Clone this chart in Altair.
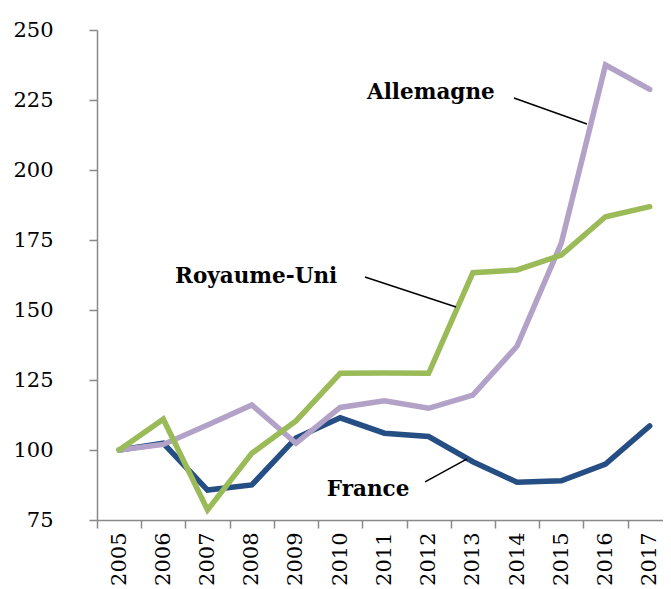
import altair as alt
import pandas as pd

years = list(range(2005, 2018))
france = [100, 102.4, 85.7, 87.5, 104.3, 111.5, 106.0, 104.8, 95.8, 88.5, 89.0, 95.0, 108.6]
royaume_uni = [100, 111.0, 78.6, 98.8, 110.4, 127.4, 127.5, 127.4, 163.3, 164.3, 169.6, 183.3, 186.9]
allemagne = [100, 102.0, 108.9, 116.1, 102.4, 115.2, 117.6, 114.9, 119.6, 137.1, 173.9, 237.5, 228.8]

series_names = ["France", "Allemagne", "Royaume-Uni"]
series_colors = ["#254E84", "#B3A2C7", "#9BBB59"]

label_text = ["Allemagne", "Royaume-Uni", "France"]
label_x = [7.05, 3.1, 5.63]
label_y = [227.5, 161.8, 85.7]

leader_x = [8.93, 5.56, 6.92]
leader_y = [225.7, 161.8, 88.6]
leader_x2 = [10.58, 7.62, 7.87]
leader_y2 = [216.4, 151.1, 96.8]

rows = []
for name, vals in zip(series_names, [france, allemagne, royaume_uni]):
    for i, (yr, v) in enumerate(zip(years, vals)):
        rows.append({"serie": name, "t": i, "year": yr, "value": v})
df = pd.DataFrame(rows)

labels_df = pd.DataFrame({"text": label_text, "x": label_x, "y": label_y})
leaders_df = pd.DataFrame({"x": leader_x, "y": leader_y, "x2": leader_x2, "y2": leader_y2})

font = "DejaVu Serif"
xscale = alt.Scale(domain=[-0.5, 12.3], nice=False, zero=False)
yscale = alt.Scale(domain=[75, 250], nice=False, zero=False)

tick_vals = [i - 0.5 for i in range(13)]

x_axis = alt.Axis(
    values=tick_vals,
    labelExpr="toString(datum.value + 2005.5)",
    labelOffset=22.1,
    labelAngle=-90,
    labelAlign="right",
    labelBaseline="middle",
    labelFont=font,
    labelFontSize=21,
    labelColor="black",
    labelPadding=4,
    tickSize=8,
    tickColor="#898989",
    tickWidth=1.5,
    domainColor="#898989",
    domainWidth=1.5,
    grid=False,
    title=None,
)
y_axis = alt.Axis(
    values=[75, 100, 125, 150, 175, 200, 225, 250],
    labelFont=font,
    labelFontSize=21,
    labelColor="black",
    labelPadding=36,
    tickSize=8,
    tickColor="#898989",
    tickWidth=1.5,
    domainColor="#898989",
    domainWidth=1.5,
    grid=False,
    title=None,
)

line_layers = []
for name, col in zip(series_names, series_colors):
    line_layers.append(
        alt.Chart(df[df["serie"] == name]).mark_line(strokeWidth=5.5, strokeCap="round", color=col).encode(
            x=alt.X("t:Q", scale=xscale, axis=x_axis),
            y=alt.Y("value:Q", scale=yscale, axis=y_axis),
        )
    )

rules = alt.Chart(leaders_df).mark_rule(color="black", strokeWidth=1.5).encode(
    x=alt.X("x:Q", scale=xscale), y=alt.Y("y:Q", scale=yscale),
    x2="x2:Q", y2="y2:Q",
)

texts = alt.Chart(labels_df).mark_text(font=font, fontSize=21.5, fontWeight="bold", color="black",
                                       align="center", baseline="middle").encode(
    x=alt.X("x:Q", scale=xscale), y=alt.Y("y:Q", scale=yscale), text="text:N",
)

chart = alt.layer(*line_layers, rules, texts).properties(
    width=566, height=490,
    autosize=alt.AutoSizeParams(type="none"),
    padding={"left": 89, "top": 22, "right": 0, "bottom": 67},
).configure_view(stroke=None)

chart.save("out.html", embed_options={"renderer": "svg", "actions": False})
